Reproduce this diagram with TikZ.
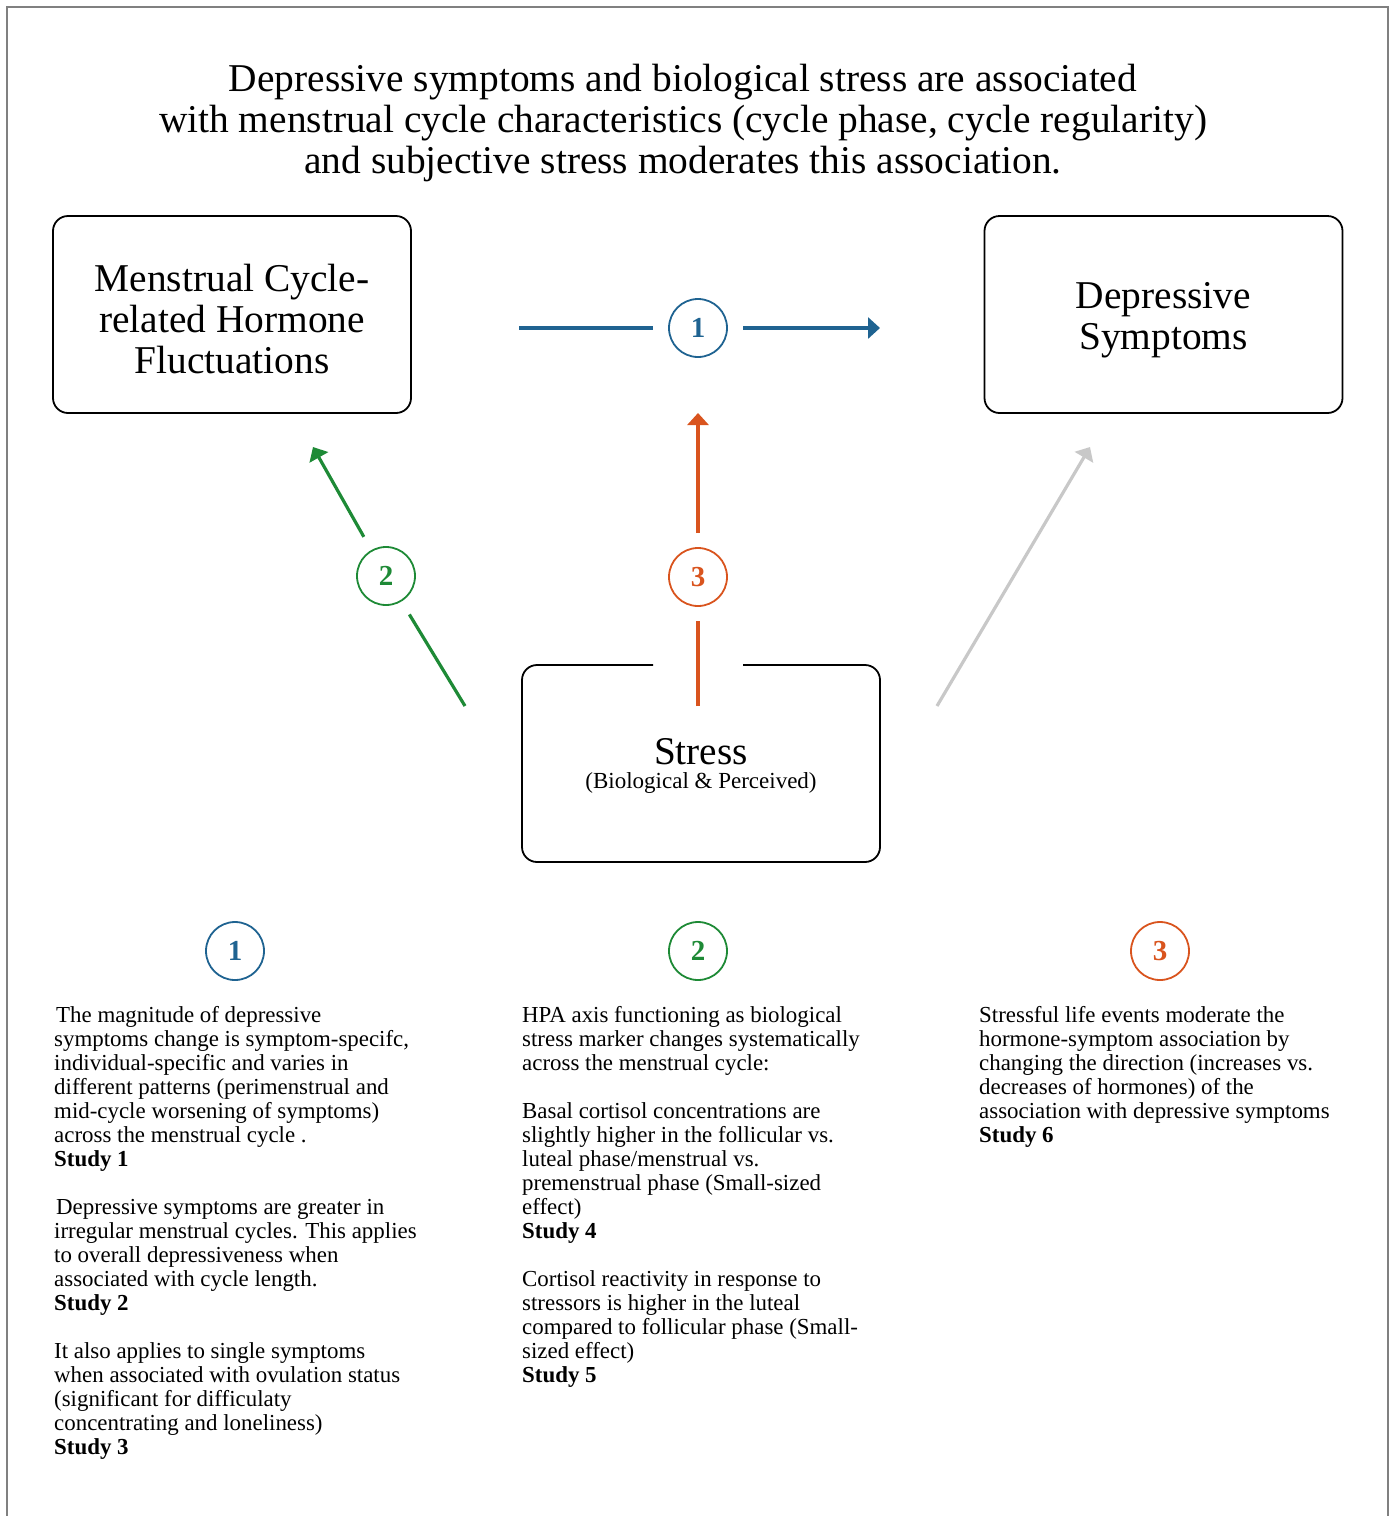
\documentclass[tikz,border=0pt]{standalone}
\usepackage{fontspec}
\setmainfont{Liberation Serif}
\usetikzlibrary{arrows.meta,calc}
\definecolor{pathblue}{HTML}{1F6391}
\definecolor{pathgreen}{HTML}{1E8A36}
\definecolor{pathorange}{HTML}{D9541E}
\definecolor{pathgray}{HTML}{C8C8C8}
\definecolor{framegray}{HTML}{808080}
\begin{document}
\begin{tikzpicture}[x=1pt,y=-1pt,
  conceptbox/.style={draw, line width=1.8pt, rounded corners=15pt, minimum width=358pt, minimum height=197pt, inner sep=0pt, outer sep=0pt},
  boxlabel/.style={align=center, inner sep=0pt, font=\fontsize{39.4}{41}\selectfont},
  numcircle/.style={circle, draw=#1, text=#1, line width=1.8pt, minimum size=58pt, inner sep=0pt, font=\fontsize{29}{29}\selectfont\bfseries},
  link/.style={line width=3.2pt, draw=#1},
  linkarrow/.style={line width=3.2pt, draw=#1, fill=#1, -{Triangle[length=12pt,width=21pt]}},
  notes/.style={anchor=north west, align=left, inner sep=0pt, font=\fontsize{22.9}{24}\selectfont}
]
\useasboundingbox (0,0) rectangle (1394,1516);
% outer frame (open at the bottom)
\draw[framegray, line width=2pt] (7,1516) -- (7,7) -- (1388,7) -- (1388,1516);

% heading
\node[align=center, font=\fontsize{39.4}{41}\selectfont] (title) at (683,123.5)
  {Depressive symptoms and biological stress are associated\\
   with menstrual cycle characteristics (cycle phase, cycle regularity)\\
   and subjective stress moderates this association.};

% concept boxes
\node[conceptbox] (hormone) at (232,314.5) {};
\node[boxlabel] (hormonelbl) at (232,319) {Menstrual Cycle-\\related Hormone\\Fluctuations};
\node[conceptbox] (depress) at (1163.5,314.5) {};
\node[boxlabel] (depresslbl) at (1163.5,320) {Depressive\\Symptoms};
\node[minimum width=358pt, minimum height=197pt, inner sep=0pt, outer sep=0pt] (stress) at (701,763.5) {};
\node[font=\fontsize{39.3}{39}\selectfont] (stresslbl) at (701,752) {Stress};
\node[font=\fontsize{23}{23}\selectfont] (stresssub) at (701,782.5) {(Biological \& Perceived)};
% stress box outline, left open where the moderation path enters
\draw[line width=1.8pt, rounded corners=15pt]
  (653,665) -- (522,665) -- (522,862) -- (880,862) -- (880,665) -- (743,665);

% path markers
\node[numcircle=pathblue] (c1) at (698,328) {1};
\node[numcircle=pathgreen] (c2) at (386,576) {2};
\node[numcircle=pathorange] (c3) at (698,577) {3};

% end points of the paths
\coordinate (b0) at (519,328);
\coordinate (b1) at (880,328);
\coordinate (g0) at (465,706);
\coordinate (g1) at (313,447);
\coordinate (o0) at (698,706);
\coordinate (o1) at (698,413);
\coordinate (s0) at (937,706);
\coordinate (s1) at (1090,447);

% path 1: hormones -> symptoms
\draw[link=pathblue] (b0) -- ($(c1)+(-45,0)$);
\draw[linkarrow=pathblue] ($(c1)+(45,0)$) -- (b1);
% path 2: stress -> hormones
\draw[link=pathgreen] (g0) -- ($(c2)!45pt!(g0)$);
\draw[linkarrow=pathgreen] ($(c2)!45pt!(g1)$) -- (g1);
% path 3: stress moderates path 1
\draw[link=pathorange] (o0) -- ($(c3)+(0,44)$);
\draw[linkarrow=pathorange] ($(c3)+(0,-44)$) -- (o1);
% stress -> symptoms
\draw[linkarrow=pathgray] (s0) -- (s1);

% legend markers
\node[numcircle=pathblue] (l1) at (235,951) {1};
\node[numcircle=pathgreen] (l2) at (698,951) {2};
\node[numcircle=pathorange] (l3) at (1160,951) {3};

% findings
\node[notes] (n1) at (54,1006)
  {\hspace*{2pt}The magnitude of depressive\\
   symptoms change is symptom-specifc,\\
   individual-specific and varies in\\
   different patterns (perimenstrual and\\
   mid-cycle worsening of symptoms)\\
   across the menstrual cycle .\\
   \textbf{Study 1}\\[24pt]
   \hspace*{2pt}Depressive symptoms are greater in\\
   irregular menstrual cycles. This applies\\
   to overall depressiveness when\\
   associated with cycle length.\\
   \textbf{Study 2}\\[24pt]
   It also applies to single symptoms\\
   when associated with ovulation status\\
   (significant for difficulaty\\
   concentrating and loneliness)\\
   \textbf{Study 3}};
\node[notes] (n2) at (522,1006)
  {HPA axis functioning as biological\\
   stress marker changes systematically\\
   across the menstrual cycle:\\[24pt]
   Basal cortisol concentrations are\\
   slightly higher in the follicular vs.\\
   luteal phase/menstrual vs.\\
   premenstrual phase (Small-sized\\
   effect)\\
   \textbf{Study 4}\\[24pt]
   Cortisol reactivity in response to\\
   stressors is higher in the luteal\\
   compared to follicular phase (Small-\\
   sized effect)\\
   \textbf{Study 5}};
\node[notes] (n3) at (979,1006)
  {Stressful life events moderate the\\
   hormone-symptom association by\\
   changing the direction (increases vs.\\
   decreases of hormones) of the\\
   association with depressive symptoms\\
   \textbf{Study 6}};
\end{tikzpicture}
\end{document}
